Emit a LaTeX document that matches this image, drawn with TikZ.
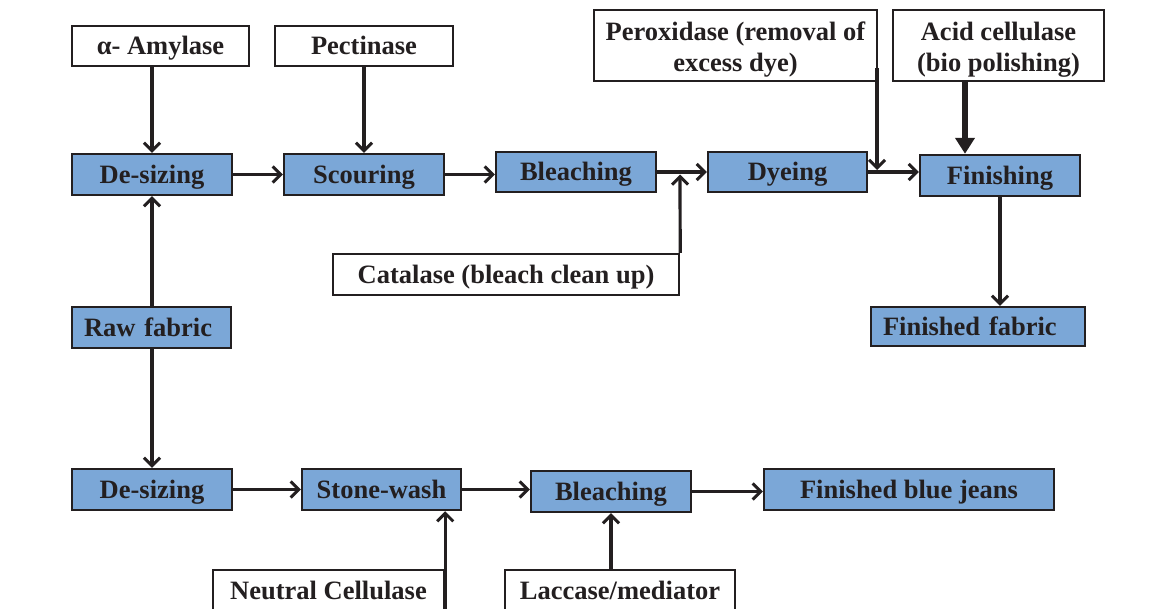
\documentclass[tikz,border=0pt]{standalone}
\usepackage{fontspec}
\setmainfont{Liberation Serif}
\usetikzlibrary{arrows.meta}
\definecolor{boxblue}{RGB}{123,167,215}
\definecolor{ink}{RGB}{35,31,32}
\tikzset{
  base/.style={draw=ink, line width=2.4pt, inner sep=0pt, font=\fontsize{26.5}{31}\selectfont\bfseries, text=ink},
  enz/.style={base, fill=white, text height=17pt, text depth=0pt},
  enz2/.style={base, fill=white},
  proc/.style={base, fill=boxblue, text height=17pt, text depth=0pt},
  leftproc/.style={proc, align=left},
  arr/.style={draw=ink, line width=3.2pt, -{Straight Barb[length=8pt,width=16pt,line width=3pt]}},
  thickarr/.style={draw=ink, line width=5.5pt, -{Triangle[length=16pt,width=19pt]}},
}
\newcommand{\twoline}[2]{\raisebox{-11pt}[0pt][0pt]{\begin{tabular}{@{}c@{}}#1\\#2\end{tabular}}}
\begin{document}
\begin{tikzpicture}[x=1pt,y=-1pt]
\useasboundingbox (0,0) rectangle (1164,608);
% enzyme boxes
\node[enz, minimum width=177pt, minimum height=40pt] (amyl) at (160.5,46) {α- Amylase};
\node[enz, minimum width=178pt, minimum height=40pt] (pect) at (364,46) {Pectinase};
\node[enz2, minimum width=283pt, minimum height=71pt] (perox) at (735.5,45.5) {\twoline{Peroxidase (removal of}{excess dye)}};
\node[enz2, minimum width=211pt, minimum height=71pt] (acid) at (998.5,45.5) {\twoline{Acid cellulase}{(bio polishing)}};
\node[enz, minimum width=346pt, minimum height=41pt] (catal) at (506,274.5) {Catalase (bleach clean up)};
\node[enz, minimum width=231pt, minimum height=41pt] (neutral) at (328.5,590.5) {Neutral Cellulase};
\node[enz, minimum width=230pt, minimum height=41pt] (lacc) at (620,590.5) {Laccase/mediator};
% process boxes
\node[proc, minimum width=160pt, minimum height=41pt] (des1) at (152,174.5) {De-sizing};
\node[proc, minimum width=160pt, minimum height=41pt] (scour) at (364,174.5) {Scouring};
\node[proc, minimum width=160pt, minimum height=40pt] (bleach1) at (576,172) {Bleaching};
\node[proc, minimum width=159pt, minimum height=40pt] (dye) at (787.5,172) {Dyeing};
\node[proc, minimum width=160pt, minimum height=41pt] (finish) at (1000,175.5) {Finishing};
\node[leftproc, minimum width=159pt, minimum height=41pt, text width=135pt, inner xsep=12pt] (raw) at (151.5,327.5) {Raw fabric};
\node[leftproc, minimum width=214pt, minimum height=39pt, text width=190pt, inner xsep=12pt] (finfab) at (978,326.5) {Finished fabric};
\node[proc, minimum width=160pt, minimum height=41pt] (des2) at (152,489.5) {De-sizing};
\node[proc, minimum width=159pt, minimum height=41pt] (stone) at (381.5,489.5) {Stone-wash};
\node[proc, minimum width=160pt, minimum height=41pt] (bleach2) at (611,491.5) {Bleaching};
\node[proc, minimum width=290pt, minimum height=41pt] (jeans) at (909,489.5) {Finished blue jeans};
% junction coordinates
\coordinate (j1) at (680,173);
\coordinate (perxtop) at (877,68);
\coordinate (j2) at (877,170);
% arrows top row
\draw[arr] (amyl.south -| des1.north) -- (des1.north);
\draw[arr] (pect.south) -- (scour.north);
\draw[arr] (des1.east) -- (des1.east -| scour.west);
\draw[arr] (scour.east) -- (scour.east -| bleach1.west);
\draw[arr] (bleach1.east) -- (dye.west);
\draw[arr, shorten >=1.5pt] (catal.north east) -- (j1);
\draw[arr] (dye.east) -- (dye.east -| finish.west);
\draw[arr] (perxtop) -- (j2);
\draw[thickarr] (acid.south -| 965,0) -- (finish.north -| 965,0);
\draw[arr] (finish.south) -- (finish.south |- finfab.north);
% raw fabric
\draw[arr] (raw.north -| des1.south) -- (des1.south);
\draw[arr] (raw.south -| des2.north) -- (des2.north);
% bottom row
\draw[arr] (des2.east) -- (des2.east -| stone.west);
\draw[arr] (stone.east) -- (stone.east -| bleach2.west);
\draw[arr] (bleach2.east) -- (bleach2.east -| jeans.west);
\draw[arr] (neutral.south east) -- (neutral.north east |- stone.south);
\draw[arr] (lacc.north -| bleach2.south) -- (bleach2.south);
\end{tikzpicture}
\end{document}
